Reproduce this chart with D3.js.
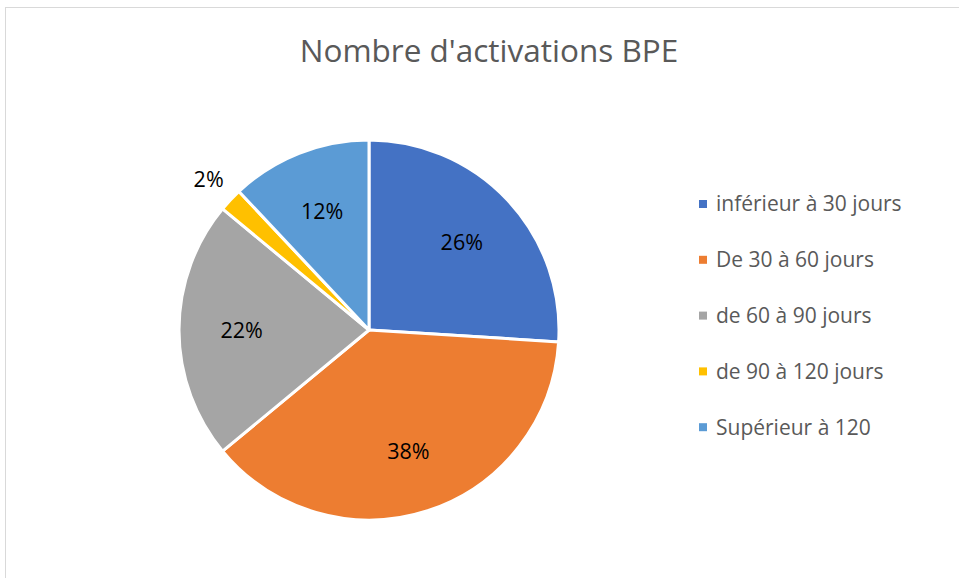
<!DOCTYPE html>
<html>
<head>
<meta charset="utf-8">
<script src="https://cdn.jsdelivr.net/npm/d3@7"></script>
<style>
  body { margin: 0; background: #fff; }
  svg { display: block; font-family: "Open Sans", "Noto Sans", sans-serif; }
</style>
</head>
<body>
<svg id="chart" width="959" height="578"></svg>
<script>
// Data
const categories = ['inférieur à 30 jours', 'De 30 à 60 jours', 'de 60 à 90 jours', 'de 90 à 120 jours', 'Supérieur à 120'];
const values = [26, 38, 22, 2, 12];
const colours = ['#4472C4', '#ED7D31', '#A5A5A5', '#FFC000', '#5B9BD5'];
const title = "Nombre d'activations BPE";

const svg = d3.select('#chart');

// Chart frame (extends past the window on the right and bottom)
svg.append('rect')
  .attr('x', 5.5).attr('y', 7.5)
  .attr('width', 1000).attr('height', 1000)
  .attr('fill', '#fff')
  .attr('stroke', '#d9d9d9');

// Title
svg.append('text')
  .attr('x', 489).attr('y', 62)
  .attr('text-anchor', 'middle')
  .attr('font-size', 31.5)
  .attr('fill', '#595959')
  .text(title);

// Pie
const cx = 369, cy = 330, radius = 190;
const colourScale = d3.scaleOrdinal().domain(categories).range(colours);
const pie = d3.pie().sort(null).value(d => d.value);
const arcs = pie(categories.map((c, i) => ({ category: c, value: values[i] })));
const arc = d3.arc().innerRadius(0).outerRadius(radius);
const labelArc = d3.arc().innerRadius(radius * 0.67).outerRadius(radius * 0.67);
const outerLabelArc = d3.arc().innerRadius(220).outerRadius(220);
const total = d3.sum(values);

const pieGroup = svg.append('g').attr('transform', `translate(${cx},${cy})`);

pieGroup.selectAll('.slice').data(arcs)
  .enter().append('path')
    .attr('class', 'slice')
    .attr('d', arc)
    .attr('fill', d => colourScale(d.data.category))
    .attr('stroke', '#fff')
    .attr('stroke-width', 3)
    .attr('stroke-linejoin', 'round');

// Data labels: small slices go outside
pieGroup.selectAll('.label').data(arcs)
  .enter().append('text')
    .attr('class', 'label')
    .attr('transform', d => {
      const small = d.data.value / total < 0.05;
      return `translate(${(small ? outerLabelArc : labelArc).centroid(d)})`;
    })
    .attr('text-anchor', 'middle')
    .attr('dy', '0.35em')
    .attr('font-size', 21.5)
    .attr('fill', '#000')
    .text(d => Math.round(d.data.value / total * 100) + '%');

// Legend
const legend = svg.append('g').attr('transform', 'translate(699,204)');
const legendRows = legend.selectAll('.legend-row').data(categories)
  .enter().append('g')
    .attr('class', 'legend-row')
    .attr('transform', (d, i) => `translate(0,${i * 55.8})`);

legendRows.append('rect')
  .attr('x', 0).attr('y', -4)
  .attr('width', 8).attr('height', 8)
  .attr('fill', d => colourScale(d));

legendRows.append('text')
  .attr('x', 17)
  .attr('dy', '0.35em')
  .attr('font-size', 21)
  .attr('fill', '#595959')
  .text(d => d);
</script>
</body>
</html>
